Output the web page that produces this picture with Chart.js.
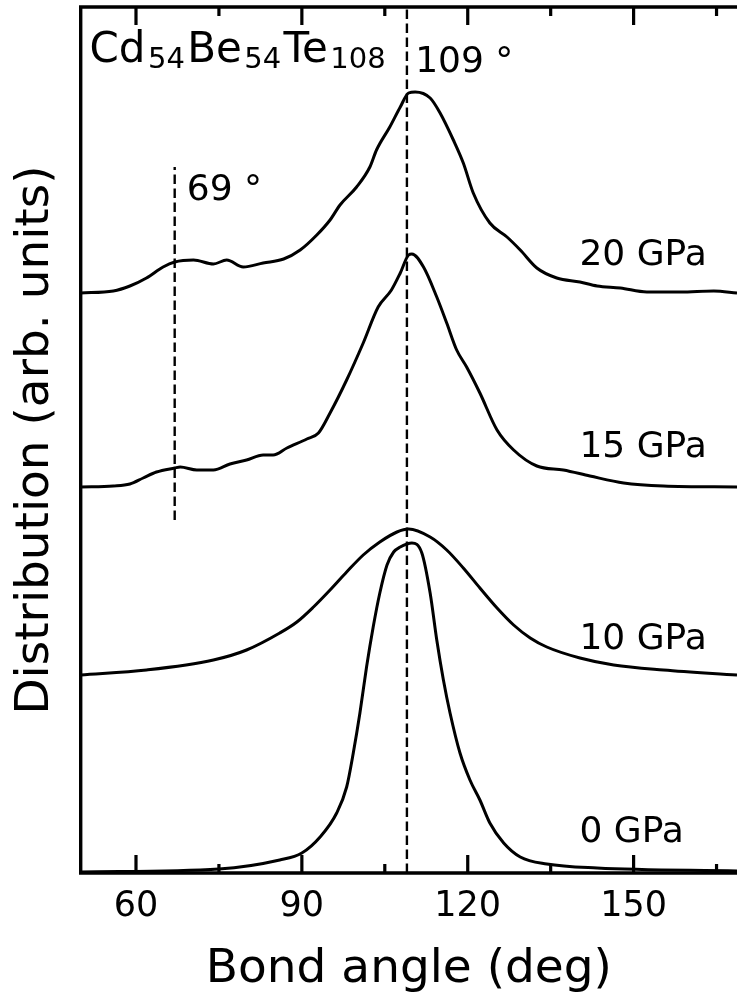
<!DOCTYPE html>
<html>
<head>
<meta charset="utf-8">
<script src="https://cdn.jsdelivr.net/npm/chart.js@4.4.1/dist/chart.umd.min.js"></script>
<style>
    html, body { margin: 0; padding: 0; background: #fff; overflow: hidden; }
    canvas { display: block; }
</style>
</head>
<body>
<canvas id="bondChart" width="737" height="996"></canvas>
<script>
// bond angle distributions (deg, arb. units above each baseline)
const angles0 = [50, 75, 86, 90, 93.3, 96.3, 98.1, 99.3, 100.5, 101.7, 102.9, 104.1, 105.4, 106.6, 107.8, 109, 109.9, 111.7, 113.2, 114.4, 115.6, 116.8, 118.6, 120.4, 122.2, 124, 126.5, 129.5, 134.3, 143.4, 168.7];
const dist0 = [0.01, 0.04, 0.13, 0.2, 0.36, 0.6, 0.86, 1.2, 1.6, 2.06, 2.46, 2.8, 3.08, 3.21, 3.26, 3.29, 3.3, 3.2, 2.8, 2.33, 1.93, 1.6, 1.2, 0.93, 0.73, 0.5, 0.3, 0.16, 0.09, 0.05, 0.02];

const angles10 = [50, 61.9, 74, 80, 86, 89.1, 92.1, 95.1, 98.1, 101.1, 104.1, 107.2, 109.3, 113.2, 116.2, 119.2, 122.2, 125.3, 128.3, 131.3, 134.3, 140.3, 146.4, 155.4, 168.7];
const dist10 = [0.03, 0.08, 0.18, 0.28, 0.45, 0.56, 0.71, 0.88, 1.06, 1.23, 1.36, 1.46, 1.49, 1.41, 1.28, 1.1, 0.9, 0.7, 0.53, 0.4, 0.31, 0.2, 0.13, 0.08, 0.03];

const angles15 = [50, 55.9, 58.9, 61.3, 63.7, 67, 68, 71, 74, 77, 80, 83, 84.8, 87.3, 90.9, 93, 95.1, 98.1, 101.1, 103.8, 106.2, 107.8, 109.3, 109.9, 112, 114.4, 116.2, 118, 119.8, 122.2, 125.3, 128.3, 132.5, 137.3, 142.1, 148.2, 155.4, 168.7];
const dist15 = [0.01, 0.02, 0.04, 0.1, 0.16, 0.2, 0.21, 0.18, 0.18, 0.24, 0.28, 0.33, 0.33, 0.4, 0.49, 0.55, 0.75, 1.08, 1.45, 1.81, 1.98, 2.15, 2.33, 2.34, 2.21, 1.91, 1.65, 1.38, 1.21, 0.95, 0.58, 0.38, 0.22, 0.18, 0.12, 0.05, 0.02, 0.01];

const angles20 = [50, 55.9, 58.9, 61.9, 64.9, 67, 70.4, 74, 76.4, 79.4, 83, 86.7, 89.7, 92.7, 95.1, 96.9, 99.9, 102.3, 103.5, 105.9, 107.8, 109.3, 110.5, 113.2, 115, 117.4, 119.2, 121, 124, 127.1, 129.5, 132.5, 136.1, 140.3, 143.4, 147.6, 152.4, 158.5, 164.5, 168.7];
const dist20 = [0, 0.02, 0.07, 0.15, 0.26, 0.31, 0.33, 0.29, 0.33, 0.26, 0.3, 0.34, 0.43, 0.58, 0.73, 0.88, 1.06, 1.26, 1.43, 1.66, 1.86, 2, 2.01, 1.95, 1.8, 1.53, 1.3, 1, 0.7, 0.56, 0.43, 0.25, 0.15, 0.11, 0.07, 0.05, 0.01, 0.01, 0.02, 0];

const pressures = ["0 GPa", "10 GPa", "15 GPa", "20 GPa"];
const offsets = [0, 1.95, 3.85, 5.8];
const xTicks = [60, 90, 120, 150];
const xMinorTicks = [75, 105, 135, 165];
const markAngles = [109, 67];

const X_MIN = 50;
const X_MAX = 168.7;
const Y_MAX = 8.66;
const FONT = "DejaVu Sans";

function toPoints(angles, values, offset) {
    return angles.map((a, i) => ({ x: a, y: values[i] + offset }));
}

function curveDataset(angles, values, offset) {
    return {
        data: toPoints(angles, values, offset),
        borderColor: "#000",
        borderWidth: 3,
        pointRadius: 0,
        fill: false,
        cubicInterpolationMode: "monotone",
    };
}

function dashedDataset(angle, yFrom, yTo) {
    return {
        data: [{ x: angle, y: yFrom }, { x: angle, y: yTo }],
        borderColor: "#000",
        borderWidth: 2.4,
        borderDash: [9.5, 4.5],
        pointRadius: 0,
        fill: false,
    };
}

const decorPlugin = {
    id: "decor",
    afterDraw(chart) {
        const ctx = chart.ctx;
        const area = chart.chartArea;
        const xs = chart.scales.x;
        const ys = chart.scales.y;

        ctx.save();
        ctx.strokeStyle = "#000";
        ctx.lineWidth = 3.4;
        ctx.lineCap = "butt";

        // spines (no right spine, the figure is cut there)
        ctx.beginPath();
        ctx.moveTo(area.left, area.bottom);
        ctx.lineTo(area.left, area.top);
        ctx.moveTo(area.left - 1.7, area.top);
        ctx.lineTo(area.right, area.top);
        ctx.moveTo(area.left - 1.7, area.bottom);
        ctx.lineTo(area.right, area.bottom);
        ctx.stroke();

        // inward ticks on bottom and top
        ctx.lineWidth = 3.2;
        const drawTick = (v, len) => {
            const px = xs.getPixelForValue(v);
            ctx.beginPath();
            ctx.moveTo(px, area.bottom);
            ctx.lineTo(px, area.bottom - len);
            ctx.moveTo(px, area.top);
            ctx.lineTo(px, area.top + len);
            ctx.stroke();
        };
        xTicks.forEach((v) => drawTick(v, 18));
        xMinorTicks.forEach((v) => drawTick(v, 9));

        ctx.fillStyle = "#000";
        ctx.textBaseline = "alphabetic";
        ctx.textAlign = "left";

        // pressure labels
        const labelY = [0.31, 2.24, 4.16, 6.08];
        ctx.font = "36px '" + FONT + "'";
        pressures.forEach((p, i) => {
            ctx.fillText(p, xs.getPixelForValue(140.2), ys.getPixelForValue(labelY[i]));
        });

        ctx.fillText("69 °", xs.getPixelForValue(69.2), ys.getPixelForValue(6.73));
        ctx.fillText("109 °", xs.getPixelForValue(110.5), ys.getPixelForValue(8.01));

        // composition with subscripts
        const parts = [["Cd", false], ["54", true], ["Be", false], ["54", true], ["Te", false], ["108", true]];
        let cx = xs.getPixelForValue(51.6);
        const by = ys.getPixelForValue(8.11);
        parts.forEach(([t, sub]) => {
            ctx.font = (sub ? "29px '" : "42px '") + FONT + "'";
            ctx.fillText(t, cx, sub ? by + 6 : by);
            cx += ctx.measureText(t).width + 2.4;
        });

        // axis titles
        ctx.font = "47px '" + FONT + "'";
        ctx.textAlign = "center";
        ctx.fillText("Bond angle (deg)", (area.left + area.right) / 2, 982);

        ctx.translate(48, (area.top + area.bottom) / 2);
        ctx.rotate(-Math.PI / 2);
        ctx.fillText("Distribution (arb. units)", 0, 0);
        ctx.restore();
    },
};

const datasets = [
    curveDataset(angles0, dist0, offsets[0]),
    curveDataset(angles10, dist10, offsets[1]),
    curveDataset(angles15, dist15, offsets[2]),
    curveDataset(angles20, dist20, offsets[3]),
    dashedDataset(markAngles[0], 0, Y_MAX),
    dashedDataset(markAngles[1], 3.53, 7.06),
];

new Chart(document.getElementById("bondChart"), {
    type: "line",
    data: { datasets },
    options: {
        responsive: false,
        devicePixelRatio: 1,
        animation: false,
        layout: {
            padding: { left: 80.7, top: 7, right: 0, bottom: 0 },
        },
        plugins: {
            legend: { display: false },
            tooltip: { enabled: false },
        },
        scales: {
            x: {
                type: "linear",
                min: X_MIN,
                max: X_MAX,
                grid: { display: false, drawTicks: false },
                border: { display: false },
                ticks: {
                    color: "#000",
                    font: { family: FONT, size: 35 },
                    padding: 13,
                    maxRotation: 0,
                },
                afterBuildTicks: (scale) => {
                    scale.ticks = xTicks.map((v) => ({ value: v }));
                },
                afterFit: (scale) => {
                    scale.height = 123;
                },
            },
            y: {
                type: "linear",
                display: false,
                min: 0,
                max: Y_MAX,
            },
        },
    },
    plugins: [decorPlugin],
});
</script>
</body>
</html>
